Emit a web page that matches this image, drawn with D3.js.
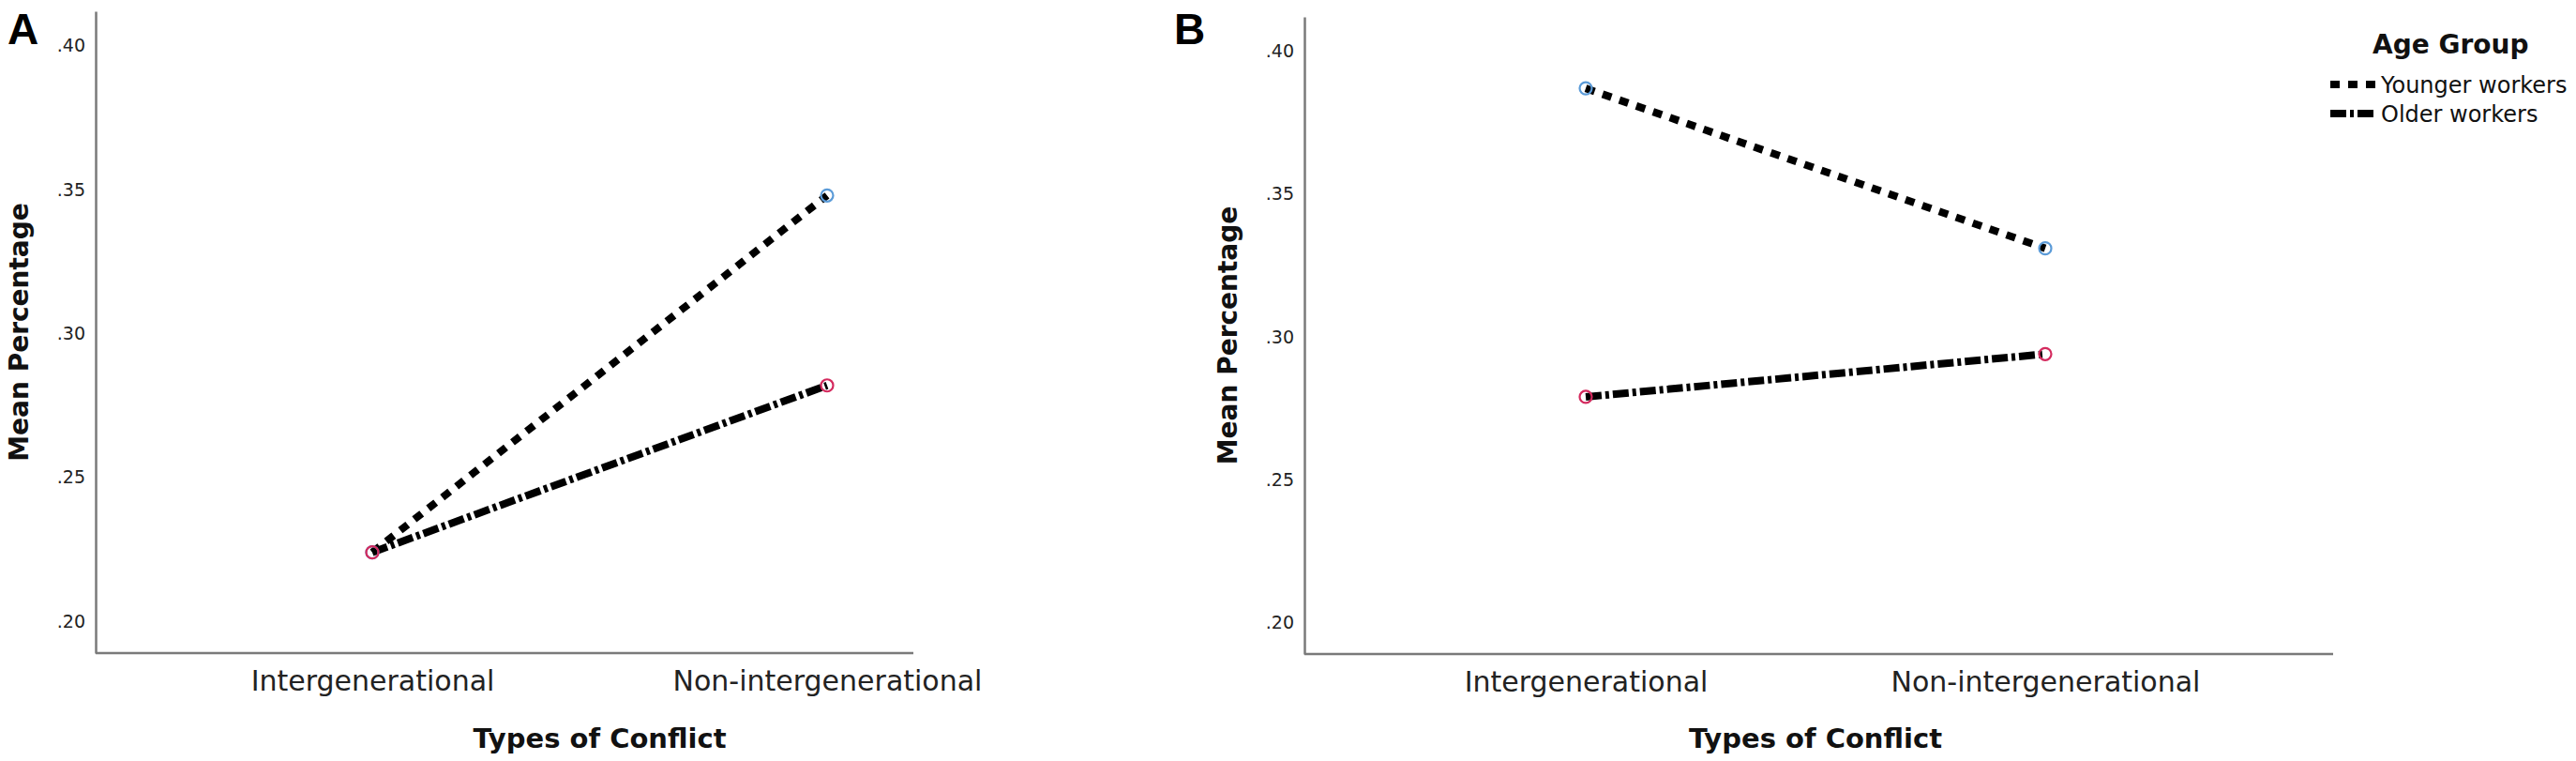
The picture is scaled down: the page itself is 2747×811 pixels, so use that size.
<!DOCTYPE html>
<html>
<head>
  <meta charset="UTF-8">
  <style>
    body { margin: 0; padding: 0; background: #fff; }
    svg { display: block; }
    .tick text { font-family: "DejaVu Sans", sans-serif; fill: #222; }
    .title { font-family: "DejaVu Sans", sans-serif; font-weight: bold; fill: #111; }
  </style>
</head>
<body>
  <svg></svg>
  <script src="https://d3js.org/d3.v7.min.js"></script>
  <script>
    // data
    const categories = ["Intergenerational", "Non-intergenerational"];
    const groups = ["Younger workers", "Older workers"];
    const yTicks = [0.20, 0.25, 0.30, 0.35, 0.40];
    const panelA_younger = [0.224, 0.348];
    const panelA_older = [0.224, 0.282];
    const panelB_younger = [0.387, 0.331];
    const panelB_older = [0.279, 0.294];

    const width = 2747, height = 811;
    const svg = d3.select("svg").attr("width", width).attr("height", height);

    const lineStyle = {
      "Younger workers": { dash: "10,9", marker: "#5b9bd8" },
      "Older workers": { dash: "17,4,4,4", marker: "#d42a5e" }
    };

    const fmt = d => d3.format(".2f")(d).replace(/^0/, "");

    function drawPanel(p, series) {
      const g = svg.append("g");

      const y = d3.scaleLinear().domain([0.189, 0.412]).range([p.bottom, p.top]);
      const x = d3.scalePoint().domain(categories).range([p.x0, p.x1]);

      // y axis
      const ya = g.append("g")
          .attr("transform", `translate(${p.left},0)`)
          .call(d3.axisLeft(y).tickValues(yTicks).tickFormat(fmt).tickSize(0).tickPadding(11));
      ya.select(".domain").attr("stroke", "#7a7a7a").attr("stroke-width", 2.5);
      ya.selectAll(".tick text").attr("font-size", 19);

      // x axis
      const xa = g.append("g")
          .attr("transform", `translate(0,${p.bottom})`)
          .call(d3.axisBottom(x).tickSize(0).tickPadding(19));
      xa.select(".domain").remove();
      xa.selectAll(".tick text").attr("font-size", 30);
      g.append("line")
          .attr("x1", p.left).attr("x2", p.right)
          .attr("y1", p.bottom).attr("y2", p.bottom)
          .attr("stroke", "#7a7a7a").attr("stroke-width", 2.5);

      // axis titles
      g.append("text").attr("class", "title")
          .attr("transform", `translate(${p.left - 72},${(p.top + p.bottom) / 2}) rotate(-90)`)
          .attr("text-anchor", "middle")
          .attr("font-size", 28)
          .text("Mean Percentage");

      g.append("text").attr("class", "title")
          .attr("x", (x(categories[0]) + x(categories[1])) / 2)
          .attr("y", 797)
          .attr("text-anchor", "middle")
          .attr("font-size", 29)
          .text("Types of Conflict");

      // panel letter
      g.append("text")
          .attr("x", p.letterX).attr("y", 47)
          .attr("font-family", "Liberation Sans, Arial, sans-serif")
          .attr("font-weight", "bold")
          .attr("font-size", 46)
          .attr("fill", "#000")
          .text(p.letter);

      const line = d3.line().x((d, i) => x(categories[i])).y(d => y(d));

      series.forEach(s => {
        g.append("path")
            .datum(s.values)
            .attr("d", line)
            .attr("fill", "none")
            .attr("stroke", "#000")
            .attr("stroke-width", 8)
            .attr("stroke-dasharray", lineStyle[s.name].dash);
      });

      series.forEach(s => {
        g.selectAll(null)
            .data(s.values)
            .enter()
            .append("circle")
            .attr("cx", (d, i) => x(categories[i]))
            .attr("cy", d => y(d))
            .attr("r", 6.5)
            .attr("fill", "none")
            .attr("stroke", lineStyle[s.name].marker)
            .attr("stroke-width", 2.2);
      });
    }

    drawPanel({ left: 102, right: 974, top: 12, bottom: 696, x0: 397, x1: 882, letter: "A", letterX: 8 }, [
      { name: groups[0], values: panelA_younger },
      { name: groups[1], values: panelA_older }
    ]);

    drawPanel({ left: 1391, right: 2488, top: 18, bottom: 697, x0: 1691, x1: 2181, letter: "B", letterX: 1252 }, [
      { name: groups[0], values: panelB_younger },
      { name: groups[1], values: panelB_older }
    ]);

    // legend
    const legend = svg.append("g").attr("transform", "translate(2485,0)");
    legend.append("text").attr("class", "title")
        .attr("x", 45).attr("y", 57)
        .attr("font-size", 28)
        .text("Age Group");

    legend.selectAll("g.item")
        .data(groups)
        .enter()
        .append("g")
        .attr("class", "item")
        .attr("transform", (d, i) => `translate(0,${90 + i * 31})`)
        .each(function(d) {
          const it = d3.select(this);
          it.append("line")
              .attr("x1", 0).attr("x2", 48)
              .attr("stroke", "#000")
              .attr("stroke-width", 8)
              .attr("stroke-dasharray", lineStyle[d].dash);
          it.append("text")
              .attr("x", 54).attr("y", 9)
              .attr("font-family", "DejaVu Sans, sans-serif")
              .attr("font-size", 24)
              .attr("fill", "#111")
              .text(d);
        });
  </script>
</body>
</html>
